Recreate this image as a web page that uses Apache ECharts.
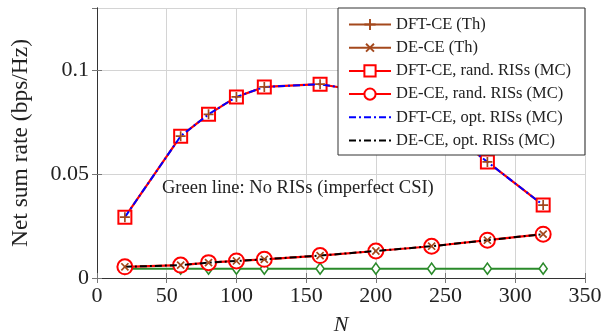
<!DOCTYPE html>
<html>
<head>
<meta charset="utf-8">
<script src="https://cdn.jsdelivr.net/npm/echarts@6/dist/echarts.min.js"></script>
<style>
html,body{margin:0;padding:0;background:#fff;}
#chart{width:605px;height:334px;}
</style>
</head>
<body>
<div id="chart"></div>
<script>
// ---- data ----
const N = [20, 60, 80, 100, 120, 160, 200, 240, 280, 320];
const optRisRate = [0.0293, 0.0683, 0.0788, 0.0872, 0.0920, 0.0933, 0.0890, 0.0770, 0.0559, 0.0351];
const randRisRate = [0.0054, 0.0062, 0.0074, 0.0082, 0.0090, 0.0108, 0.0130, 0.0153, 0.0182, 0.0211];
const noRisRate = [0.0045, 0.0045, 0.0045, 0.0045, 0.0045, 0.0045, 0.0045, 0.0045, 0.0045, 0.0045];
const xTicks = [0, 50, 100, 150, 200, 250, 300, 350];
const yTicks = [0, 0.05, 0.1];
const legendNames = ['DFT-CE (Th)', 'DE-CE (Th)', 'DFT-CE, rand. RISs (MC)', 'DE-CE, rand. RISs (MC)', 'DFT-CE, opt. RISs (MC)', 'DE-CE, opt. RISs (MC)'];
const annotation = 'Green line: No RISs (imperfect CSI)';

const pair = arr => N.map((n, i) => [n, arr[i]]);
const serif = '"Liberation Serif", "DejaVu Serif", serif';
const BROWN = '#a4481c', RED = '#ff0000', BLUE = '#0000ff', GREEN = '#2a8a2a';
const plusPath = 'path://M-1,-0.17H1V0.17H-1Z M-0.17,-1H0.17V1H-0.17Z';
const DASHDOT = [7, 3, 2, 3];

const chart = echarts.init(document.getElementById('chart'));
const axisCommon = {
  type: 'value',
  axisLine: {show: true, lineStyle: {color: '#333', width: 1}},
  axisTick: {show: true, inside: true, length: 5, lineStyle: {color: '#777'}},
};
chart.setOption({
  animation: false,
  backgroundColor: '#fff',
  grid: {left: 97, right: 20, top: 8, bottom: 56, show: false, containLabel: false, outerBoundsMode: 'none'},
  xAxis: [
    Object.assign({}, axisCommon, {
      min: 0, max: 350, interval: 50,
      name: 'N', nameLocation: 'middle', nameGap: 36,
      nameTextStyle: {fontFamily: serif, fontStyle: 'italic', fontSize: 22, color: '#222'},
      axisLabel: {fontFamily: serif, fontSize: 22, color: '#222', margin: 7,
        formatter: v => xTicks.includes(v) ? String(v) : ''},
      splitLine: {show: true, lineStyle: {color: '#d4d4d4', width: 1}}
    }),
    Object.assign({}, axisCommon, {
      position: 'top', min: 0, max: 350, interval: 50,
      axisLabel: {show: false}, splitLine: {show: false}
    })
  ],
  yAxis: [
    Object.assign({}, axisCommon, {
      min: 0, max: 0.13, interval: 0.05,
      name: 'Net sum rate (bps/Hz)', nameLocation: 'middle', nameGap: 64,
      nameTextStyle: {fontFamily: serif, fontSize: 23.5, color: '#222'},
      axisLabel: {fontFamily: serif, fontSize: 22, color: '#222', margin: 8, showMaxLabel: false,
        formatter: v => {
          const t = yTicks.find(y => Math.abs(y - v) < 1e-9);
          return t === undefined ? '' : String(t);
        }},
      splitLine: {show: true, lineStyle: {color: '#d4d4d4', width: 1}}
    }),
    Object.assign({}, axisCommon, {
      position: 'right', min: 0, max: 0.13, interval: 0.05,
      axisLabel: {show: false}, splitLine: {show: false}
    })
  ],
  legend: {
    data: [
      {name: legendNames[0], lineStyle: {opacity: 1, color: BROWN, width: 2}},
      {name: legendNames[1], lineStyle: {opacity: 1, color: BROWN, width: 2}},
      legendNames[2], legendNames[3],
      {name: legendNames[4], itemStyle: {opacity: 0}},
      {name: legendNames[5], itemStyle: {opacity: 0}}
    ],
    orient: 'vertical',
    left: 338, top: 8, z: 100,
    padding: [8, 14, 6, 10],
    itemWidth: 42, itemHeight: 14, itemGap: 6.2,
    backgroundColor: '#fff', borderColor: '#333', borderWidth: 1,
    textStyle: {fontFamily: serif, fontSize: 16.5, color: '#222'},
    selectedMode: false
  },
  graphic: [{
    type: 'text', left: 162, top: 179, z: 50,
    style: {text: annotation, font: '18.5px ' + serif, fill: '#222'}
  }],
  series: [
    {
      name: 'No RISs', type: 'line', data: pair(noRisRate), z: 2,
      symbol: 'diamond', symbolSize: [8, 11],
      lineStyle: {color: GREEN, width: 2},
      itemStyle: {color: '#fff', borderColor: GREEN, borderWidth: 1.6}
    },
    {
      name: legendNames[2], type: 'line', data: pair(optRisRate), z: 3,
      symbol: 'rect', symbolSize: 13,
      lineStyle: {color: RED, width: 2.2},
      itemStyle: {color: '#fff', borderColor: RED, borderWidth: 2}
    },
    {
      name: legendNames[3], type: 'line', data: pair(randRisRate), z: 3,
      symbol: 'circle', symbolSize: 15,
      lineStyle: {color: RED, width: 2.2},
      itemStyle: {color: '#fff', borderColor: RED, borderWidth: 2}
    },
    {
      name: legendNames[4], type: 'line', data: pair(optRisRate), z: 4,
      symbol: 'none', showSymbol: false,
      lineStyle: {color: BLUE, width: 2, type: DASHDOT},
      itemStyle: {color: BLUE}
    },
    {
      name: legendNames[5], type: 'line', data: pair(randRisRate), z: 4,
      symbol: 'none', showSymbol: false,
      lineStyle: {color: '#000', width: 2, type: DASHDOT},
      itemStyle: {color: '#000'}
    },
    {
      name: legendNames[0], type: 'line', data: pair(optRisRate), z: 6,
      symbol: plusPath, symbolSize: 10,
      lineStyle: {color: BROWN, width: 2, opacity: 0},
      itemStyle: {color: BROWN}
    },
    {
      name: legendNames[1], type: 'line', data: pair(randRisRate), z: 6,
      symbol: plusPath, symbolSize: 10, symbolRotate: 45,
      lineStyle: {color: BROWN, width: 2, opacity: 0},
      itemStyle: {color: BROWN}
    }
  ]
});
</script>
</body>
</html>
